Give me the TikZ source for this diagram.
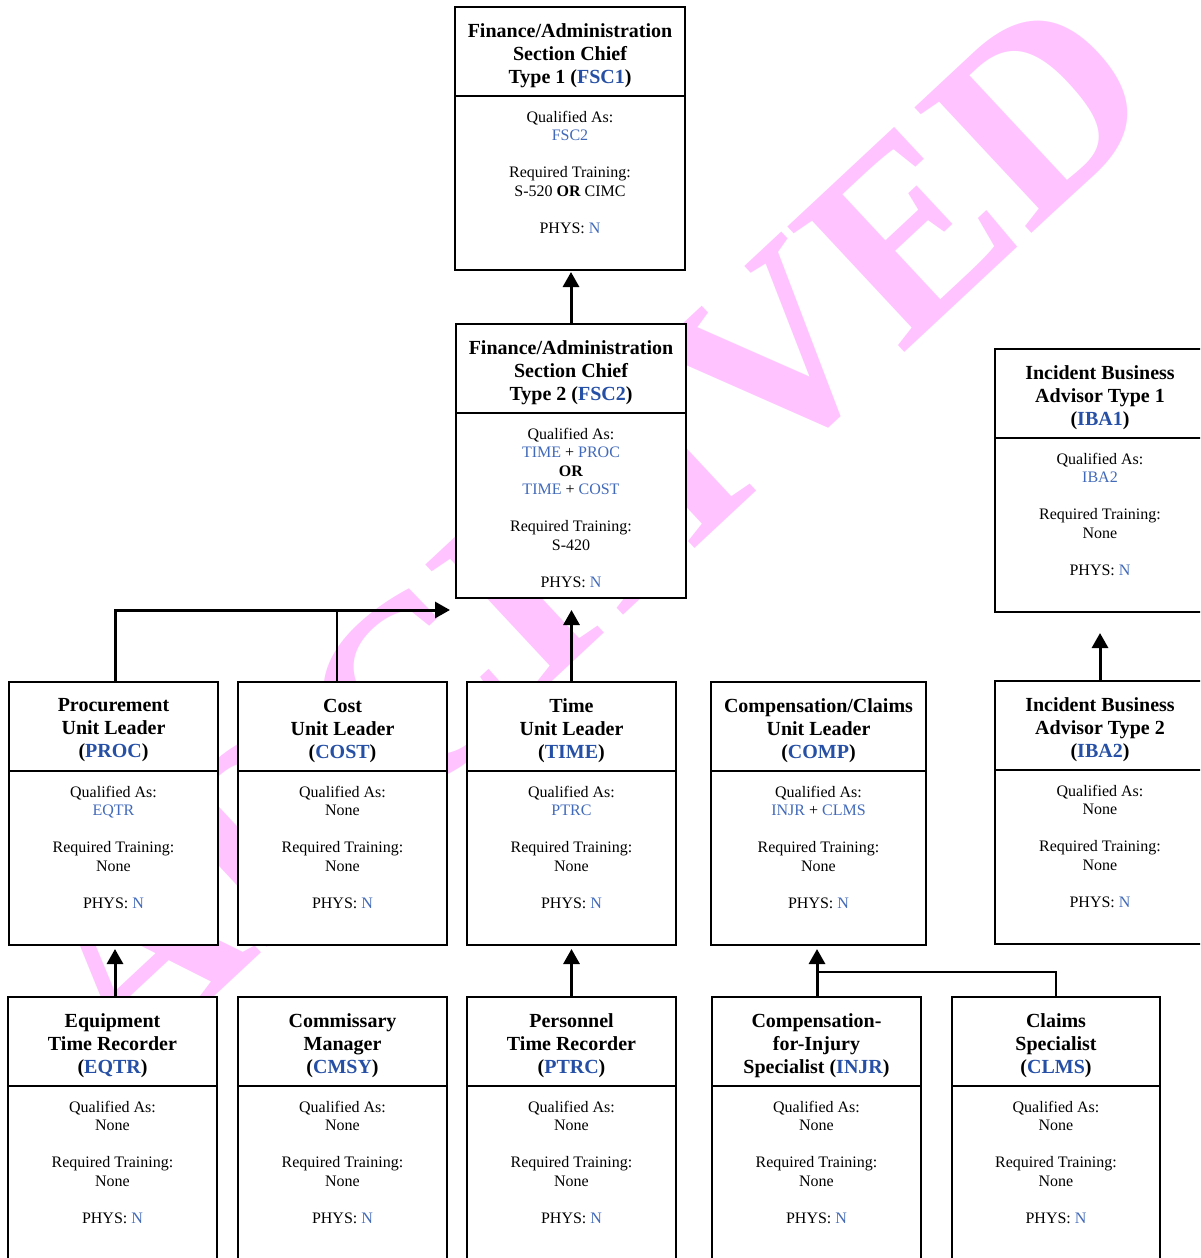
\documentclass[tikz,border=0pt]{standalone}
\usepackage{fontspec}
\setmainfont{Liberation Serif}
\usetikzlibrary{arrows.meta}
\definecolor{titleblue}{RGB}{38,80,165}
\definecolor{bodyblue}{RGB}{66,106,186}
\definecolor{wmpink}{RGB}{255,196,255}
\newcommand\tb[1]{\textcolor{titleblue}{#1}}
\newcommand\bb[1]{\textcolor{bodyblue}{#1}}
\newcommand\orgbox[7]{%
  \node[boxst, minimum width=#4pt, minimum height=#5pt, anchor=north west] (#1) at (#2,#3) {};
  \draw[divst] ([yshift=-89pt]#1.north west) -- ([yshift=-89pt]#1.north east);
  \node[titlest] (#1-t) at ([yshift=-48.5pt]#1.north) {#6};
  \node[bodyst] (#1-b) at ([yshift=-104pt]#1.north) {#7};
}
\newcommand\gap{\\[18.5pt]}
\begin{document}
\begin{tikzpicture}[x=1pt,y=-1pt,
  boxst/.style={draw=black, line width=2pt, fill=white, inner sep=0pt, outer sep=0pt},
  divst/.style={line width=2pt},
  titlest/.style={font=\fontsize{20}{23}\selectfont\bfseries, align=center, inner sep=0pt},
  bodyst/.style={font=\fontsize{16}{18.5}\selectfont, align=center, inner sep=0pt, anchor=north},
  conn/.style={line width=3pt, -{Triangle[width=16pt,length=15pt]}},
  branch/.style={line width=2pt},
  wm/.style={font=\fontsize{262}{262}\selectfont\bfseries, text=wmpink, inner sep=0pt}]
\useasboundingbox (0,0) rectangle (1200,1258);
\clip (0,0) rectangle (1200,1258);
\node[wm, rotate=43] (wmark) at (588,532) {ARCHIVED};

\orgbox{fsc1}{455}{7}{230}{263}{Finance/Administration\\Section Chief\\Type 1 (\tb{FSC1})}
  {Qualified As:\\\bb{FSC2}\gap Required Training:\\S-520 \textbf{OR} CIMC\gap PHYS: \bb{N}}
\orgbox{fsc2}{456}{324}{230}{274}{Finance/Administration\\Section Chief\\Type 2 (\tb{FSC2})}
  {Qualified As:\\\bb{TIME} + \bb{PROC}\\\textbf{OR}\\\bb{TIME} + \bb{COST}\gap Required Training:\\S-420\gap PHYS: \bb{N}}
\orgbox{iba1}{995}{349}{210}{263}{Incident Business\\Advisor Type 1\\(\tb{IBA1})}
  {Qualified As:\\\bb{IBA2}\gap Required Training:\\None\gap PHYS: \bb{N}}

\orgbox{proc}{9}{682}{209}{263}{Procurement\\Unit Leader\\(\tb{PROC})}
  {Qualified As:\\\bb{EQTR}\gap Required Training:\\None\gap PHYS: \bb{N}}
\orgbox{cost}{238}{682}{209}{263}{Cost\\Unit Leader\\(\tb{COST})}
  {Qualified As:\\None\gap Required Training:\\None\gap PHYS: \bb{N}}
\orgbox{time}{467}{682}{209}{263}{Time\\Unit Leader\\(\tb{TIME})}
  {Qualified As:\\\bb{PTRC}\gap Required Training:\\None\gap PHYS: \bb{N}}
\orgbox{comp}{711}{682}{215}{263}{Compensation/Claims\\Unit Leader\\(\tb{COMP})}
  {Qualified As:\\\bb{INJR} + \bb{CLMS}\gap Required Training:\\None\gap PHYS: \bb{N}}
\orgbox{iba2}{995}{681}{210}{263}{Incident Business\\Advisor Type 2\\(\tb{IBA2})}
  {Qualified As:\\None\gap Required Training:\\None\gap PHYS: \bb{N}}

\orgbox{eqtr}{8}{997}{209}{290}{Equipment\\Time Recorder\\(\tb{EQTR})}
  {Qualified As:\\None\gap Required Training:\\None\gap PHYS: \bb{N}}
\orgbox{cmsy}{238}{997}{209}{290}{Commissary\\Manager\\(\tb{CMSY})}
  {Qualified As:\\None\gap Required Training:\\None\gap PHYS: \bb{N}}
\orgbox{ptrc}{467}{997}{209}{290}{Personnel\\Time Recorder\\(\tb{PTRC})}
  {Qualified As:\\None\gap Required Training:\\None\gap PHYS: \bb{N}}
\orgbox{injr}{712}{997}{209}{290}{Compensation-\\for-Injury\\Specialist (\tb{INJR})}
  {Qualified As:\\None\gap Required Training:\\None\gap PHYS: \bb{N}}
\orgbox{clms}{952}{997}{208}{290}{Claims\\Specialist\\(\tb{CLMS})}
  {Qualified As:\\None\gap Required Training:\\None\gap PHYS: \bb{N}}

\coordinate (pc) at (450,610);
\coordinate (cj) at (817,972);
\draw[conn, shorten >=2pt] (fsc2.north) -- (fsc2.north |- fsc1.south);
\draw[conn, shorten >=12pt] (time.north) -- (time.north |- fsc2.south);
\draw[conn] ([xshift=1.5pt]proc.north) |- (pc);
\draw[branch] ([xshift=-5.5pt]cost.north) -- ([xshift=-5.5pt]cost.north |- pc);
\draw[conn, shorten >=4pt] ([xshift=2.5pt]eqtr.north) -- ([xshift=2.5pt]eqtr.north |- proc.south);
\draw[conn, shorten >=4pt] (ptrc.north) -- (ptrc.north |- time.south);
\draw[branch] (clms.north) |- (cj);
\draw[conn, shorten >=4pt] (cj |- injr.north) -- (cj |- comp.south);
\draw[conn, shorten >=21pt] (iba2.north) -- (iba2.north |- iba1.south);
\end{tikzpicture}
\end{document}
